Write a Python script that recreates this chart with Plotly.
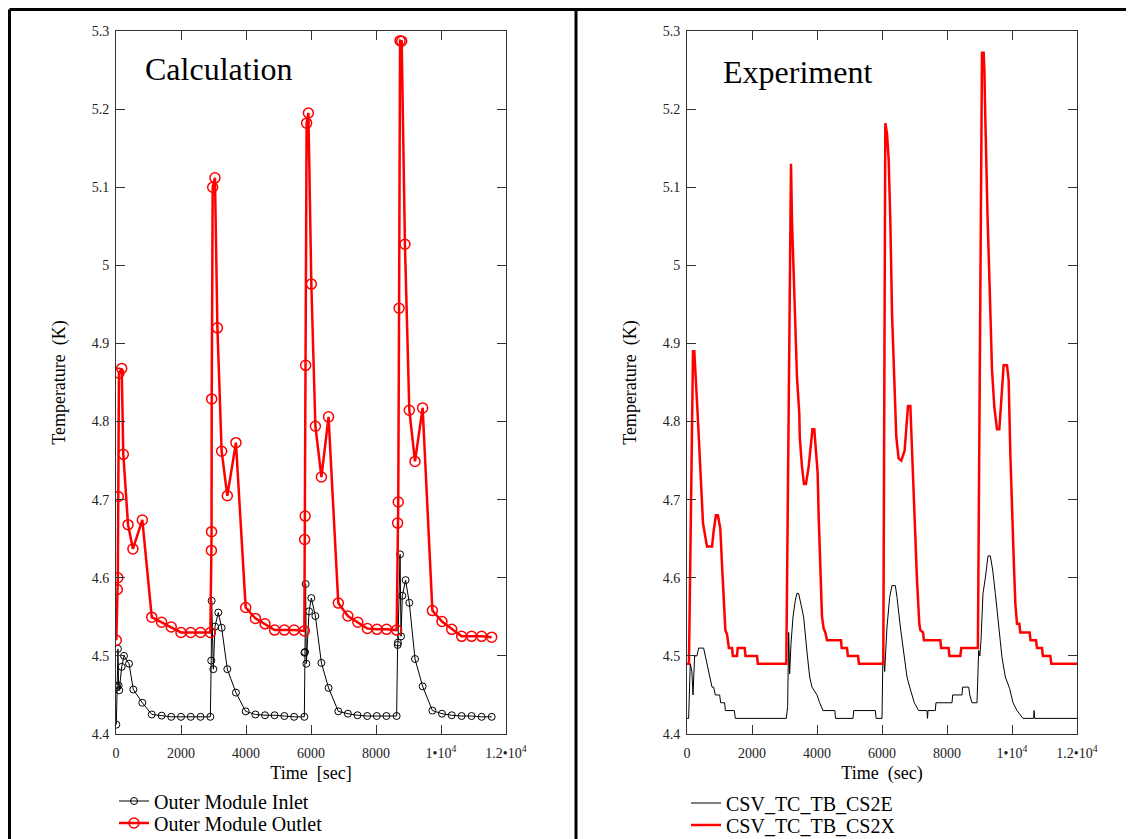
import plotly.graph_objects as go

# ---------------- Data: Calculation (left panel) ----------------
calc_inlet_t = [10, 40, 60, 80, 100, 175, 246, 400, 533, 810, 1100, 1405, 1700, 2000, 2300, 2600, 2903,
                2930, 2944, 2995, 3046, 3148, 3251, 3425, 3690, 3990, 4290, 4585, 4880, 5180, 5480, 5795,
                5800, 5815, 5835, 5856, 5940, 6010, 6135, 6320, 6540, 6840, 7135, 7430, 7730, 8025, 8320, 8635,
                8665, 8675, 8740, 8770, 8810, 8910, 9025, 9200, 9435, 9735, 10030, 10330, 10635, 10940, 11250, 11560]
calc_inlet_T = [4.412, 4.460, 4.509, 4.462, 4.456, 4.486, 4.500, 4.490, 4.457, 4.440, 4.425, 4.4235, 4.422, 4.422, 4.422, 4.422, 4.422,
                4.494, 4.5705, 4.483, 4.5375, 4.5555, 4.536, 4.483, 4.453, 4.429, 4.425, 4.424, 4.424, 4.423, 4.422, 4.422,
                4.504, 4.505, 4.592, 4.490, 4.557, 4.574, 4.551, 4.491, 4.459, 4.429, 4.426, 4.424, 4.423, 4.423, 4.423, 4.423,
                4.514, 4.517, 4.630, 4.525, 4.577, 4.597, 4.568, 4.496, 4.461, 4.430, 4.426, 4.424, 4.423, 4.423, 4.422, 4.422]

calc_outlet_t = [10, 40, 55, 70, 90, 175, 225, 370, 520, 810, 1100, 1405, 1700, 2000, 2300, 2600, 2903,
                 2935, 2940, 2945, 2975, 3045, 3120, 3250, 3425, 3690, 3990, 4290, 4585, 4880, 5180, 5480, 5795,
                 5805, 5820, 5835, 5865, 5920, 6010, 6135, 6320, 6540, 6840, 7135, 7440, 7735, 8030, 8325, 8635,
                 8665, 8685, 8710, 8740, 8790, 8890, 9025, 9200, 9435, 9735, 10030, 10330, 10635, 10940, 11250, 11560]
calc_outlet_T = [4.520, 4.585, 4.600, 4.704, 4.862, 4.868, 4.758, 4.668, 4.637, 4.674, 4.5496, 4.543, 4.537, 4.530, 4.530, 4.530, 4.530,
                 4.635, 4.659, 4.829, 5.100, 5.112, 4.920, 4.762, 4.705, 4.773, 4.562, 4.548, 4.541, 4.533, 4.533, 4.533, 4.532,
                 4.649, 4.679, 4.872, 5.182, 5.195, 4.976, 4.794, 4.729, 4.806, 4.5676, 4.551, 4.543, 4.535, 4.534, 4.534, 4.533,
                 4.670, 4.697, 4.945, 5.2876, 5.287, 5.027, 4.8145, 4.749, 4.8175, 4.558, 4.544, 4.534, 4.525, 4.525, 4.525, 4.524]

# ---------------- Data: Experiment (right panel) ----------------
exp_cs2e_t = [0, 50, 100, 150, 185, 235, 305, 358, 512, 563, 615, 666, 718, 770, 820, 870, 1005, 1035, 1159, 1180, 1457, 1487,
              3055, 3097, 3128, 3158, 3200, 3262, 3332, 3384, 3435, 3486, 3589, 3692, 3774, 3846, 3917, 4000, 4082, 4184,
              4550, 4570, 5108, 5130, 5795, 5820, 6000, 6031, 6082, 6154, 6236, 6308, 6410, 6462, 6564, 6667, 6769, 6852,
              6923, 6995, 7128, 7385, 7400, 7415, 7641, 7660, 8154, 8175, 8462, 8480, 8667, 8700, 8769, 8923, 8974, 9010,
              9046, 9108, 9180, 9262, 9333, 9405, 9487, 9590, 9692, 9795, 9928, 10031, 10154, 10338, 10667, 10680, 10700, 12000]
exp_cs2e_T = [4.42, 4.42, 4.49, 4.48, 4.45, 4.50, 4.50, 4.51, 4.51, 4.50, 4.49, 4.48, 4.47, 4.46, 4.46, 4.45, 4.45, 4.44, 4.44, 4.43, 4.43, 4.42,
              4.42, 4.435, 4.53, 4.477, 4.516, 4.55, 4.571, 4.58, 4.58, 4.571, 4.55, 4.505, 4.473, 4.46, 4.455, 4.45, 4.44, 4.43,
              4.43, 4.42, 4.42, 4.43, 4.43, 4.42, 4.42, 4.51, 4.48, 4.537, 4.575, 4.59, 4.59, 4.575, 4.537, 4.503, 4.473, 4.46,
              4.45, 4.44, 4.43, 4.43, 4.42, 4.43, 4.43, 4.44, 4.44, 4.45, 4.45, 4.46, 4.46, 4.45, 4.44, 4.44, 4.507, 4.50,
              4.52, 4.58, 4.60, 4.628, 4.628, 4.61, 4.58, 4.537, 4.498, 4.473, 4.458, 4.44, 4.43, 4.42, 4.42, 4.43, 4.42, 4.42]

exp_cs2x_t = [0, 60, 185, 225, 327, 358, 410, 460, 492, 615, 770, 820, 890, 950, 1025, 1076, 1128, 1180, 1230, 1290, 1385, 1410,
              1538, 1560, 1775, 1800, 2155, 2180, 3055, 3178, 3200, 3230, 3281, 3332, 3384, 3455, 3470, 3538, 3600, 3660, 3692,
              3743, 3794, 3860, 3917, 3960, 4020, 4052, 4102, 4154, 4205, 4257, 4308, 4738, 4760, 4923, 4950, 5262, 5290,
              6040, 6102, 6154, 6205, 6256, 6308, 6350, 6410, 6440, 6511, 6594, 6697, 6750, 6800, 6872, 6923, 6974, 7025,
              7077, 7148, 7180, 7262, 7290, 7795, 7820, 8050, 8075, 8410, 8440, 8950, 9077, 9128, 9150, 9178, 9200, 9250,
              9312, 9333, 9385, 9455, 9538, 9610, 9661, 9743, 9846, 9897, 9948, 10000, 10050, 10102, 10154, 10225, 10256,
              10543, 10570, 10738, 10770, 10923, 10950, 11179, 11210, 12000]
exp_cs2x_T = [4.49, 4.49, 4.89, 4.89, 4.81, 4.78, 4.746, 4.695, 4.67, 4.64, 4.64, 4.66, 4.68, 4.68, 4.663, 4.618, 4.575, 4.533, 4.528, 4.51, 4.51, 4.50,
              4.50, 4.51, 4.51, 4.50, 4.50, 4.49, 4.49, 5.13, 5.13, 5.058, 4.994, 4.913, 4.857, 4.81, 4.78, 4.742, 4.72, 4.72, 4.729,
              4.742, 4.763, 4.79, 4.79, 4.763, 4.734, 4.678, 4.597, 4.55, 4.535, 4.53, 4.52, 4.52, 4.51, 4.51, 4.50, 4.50, 4.49,
              4.49, 5.182, 5.169, 5.135, 5.058, 4.939, 4.89, 4.832, 4.78, 4.753, 4.75, 4.763, 4.80, 4.82, 4.82, 4.763, 4.70, 4.64,
              4.597, 4.541, 4.533, 4.53, 4.52, 4.52, 4.51, 4.51, 4.50, 4.50, 4.51, 4.51, 5.272, 5.272, 5.25, 5.19, 5.144, 5.058,
              4.973, 4.93, 4.866, 4.819, 4.79, 4.79, 4.819, 4.872, 4.872, 4.853, 4.76, 4.682, 4.627, 4.567, 4.541, 4.541, 4.53,
              4.53, 4.52, 4.52, 4.51, 4.51, 4.50, 4.50, 4.49, 4.49]

# ---------------- Tick labels ----------------
x_tickvals = [0, 2000, 4000, 6000, 8000, 10000, 12000]
x_ticktext = ["0", "2000", "4000", "6000", "8000", "1\u202210<sup>4</sup>", "1.2\u202210<sup>4</sup>"]
y_tickvals = [4.4, 4.5, 4.6, 4.7, 4.8, 4.9, 5.0, 5.1, 5.2, 5.3]
y_ticktext = ["4.4", "4.5", "4.6", "4.7", "4.8", "4.9", "5", "5.1", "5.2", "5.3"]

FONT = "Liberation Serif, Times New Roman, serif"
OFF = 8                       # page body margin
W, H = 1126, 831              # figure size (fits the window with the body margin)
ML, MR, MT, MB = 108, 57, 23, 105
PW, PH = W - ML - MR, H - MT - MB


def px_x(p):                  # page pixel -> paper x
    return (p - OFF - ML) / PW


def px_y(p):                  # page pixel -> paper y
    return (H - MB - (p - OFF)) / PH


fig = go.Figure()

fig.add_trace(go.Scatter(x=calc_inlet_t, y=calc_inlet_T, mode="lines+markers", name="Outer Module Inlet",
                         line=dict(color="black", width=1),
                         marker=dict(symbol="circle-open", size=7, color="black", line=dict(width=1)),
                         xaxis="x", yaxis="y", legend="legend"))
fig.add_trace(go.Scatter(x=calc_outlet_t, y=calc_outlet_T, mode="lines+markers", name="Outer Module Outlet",
                         line=dict(color="#ff0000", width=2.5),
                         marker=dict(symbol="circle-open", size=10, color="#ff0000", line=dict(width=1.5)),
                         xaxis="x", yaxis="y", legend="legend2"))
fig.add_trace(go.Scatter(x=exp_cs2e_t, y=exp_cs2e_T, mode="lines", name="CSV_TC_TB_CS2E",
                         line=dict(color="black", width=1),
                         xaxis="x2", yaxis="y2", legend="legend3"))
fig.add_trace(go.Scatter(x=exp_cs2x_t, y=exp_cs2x_T, mode="lines", name="CSV_TC_TB_CS2X",
                         line=dict(color="#ff0000", width=2.5),
                         xaxis="x2", yaxis="y2", legend="legend4"))

axis_common = dict(showline=True, linecolor="#333", linewidth=1, mirror="ticks", ticks="inside",
                   ticklen=9, tickcolor="#333", tickwidth=1, showgrid=False, zeroline=False,
                   tickfont=dict(family=FONT, size=14, color="#222"), automargin=False)

xa = dict(range=[0, 12000], tickmode="array", tickvals=x_tickvals, ticktext=x_ticktext,
          ticklabelstandoff=6, **axis_common)
ya = dict(range=[4.4, 5.3], tickmode="array", tickvals=y_tickvals, ticktext=y_ticktext,
          ticklabelstandoff=3, **axis_common)

left_dom = [0, (506 - 116) / PW]
right_dom = [(687 - 116) / PW, 1]
title_font = dict(family=FONT, size=18, color="black")

fig.update_layout(
    width=W, height=H,
    margin=dict(l=ML, r=MR, t=MT, b=MB, autoexpand=False),
    paper_bgcolor="white", plot_bgcolor="white",
    font=dict(family=FONT, color="black"),
    xaxis=dict(domain=left_dom, anchor="y",
               title=dict(text="Time\u00a0\u00a0[sec]", font=title_font, standoff=6), **xa),
    yaxis=dict(domain=[0, 1], anchor="x",
               title=dict(text="Temperature\u00a0\u00a0(K)", font=title_font, standoff=21), **ya),
    xaxis2=dict(domain=right_dom, anchor="y2",
                title=dict(text="Time\u00a0\u00a0(sec)", font=title_font, standoff=6), **xa),
    yaxis2=dict(domain=[0, 1], anchor="x2",
                title=dict(text="Temperature\u00a0\u00a0(K)", font=title_font, standoff=21), **ya),
    showlegend=True,
)

leg_common = dict(font=dict(family=FONT, size=20, color="black"), bgcolor="rgba(0,0,0,0)",
                  borderwidth=0, xanchor="left", yanchor="middle", itemclick=False)
fig.update_layout(
    legend=dict(x=px_x(114), y=px_y(801), **leg_common),
    legend2=dict(x=px_x(114), y=px_y(823), **leg_common),
    legend3=dict(x=px_x(686), y=px_y(803), **leg_common),
    legend4=dict(x=px_x(686), y=px_y(825), **leg_common),
)

fig.add_annotation(text="Calculation", xref="paper", yref="paper", x=px_x(143), y=px_y(69),
                   xanchor="left", yanchor="middle", showarrow=False,
                   font=dict(family=FONT, size=32, color="black"))
fig.add_annotation(text="Experiment", xref="paper", yref="paper", x=px_x(721), y=px_y(72),
                   xanchor="left", yanchor="middle", showarrow=False,
                   font=dict(family=FONT, size=32, color="black"))

# outer frame lines (page coordinates)
frame = dict(color="black", width=3)
fig.add_shape(type="line", xref="paper", yref="paper", x0=px_x(9.5), x1=px_x(1134), y0=px_y(9.5), y1=px_y(9.5), line=frame)
fig.add_shape(type="line", xref="paper", yref="paper", x0=px_x(9.5), x1=px_x(9.5), y0=px_y(9.5), y1=px_y(839), line=frame)
fig.add_shape(type="line", xref="paper", yref="paper", x0=px_x(576), x1=px_x(576), y0=px_y(9.5), y1=px_y(839), line=frame)

fig.write_html("out.html")
